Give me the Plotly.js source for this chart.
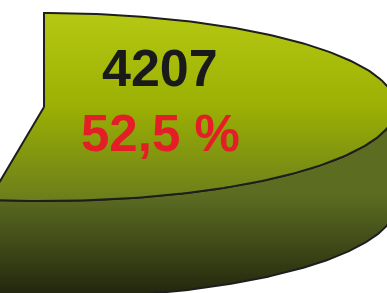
<!DOCTYPE html>
<html>
<head>
<meta charset="utf-8">
<script src="https://cdn.plot.ly/plotly-3.0.1.min.js"></script>
<style>html,body{margin:0;padding:0;background:#fff;}#chart{width:387px;height:293px;}</style>
</head>
<body>
<div id="chart"></div>
<script>
// ---- data ----
const labels = ["4207"];
const values = [4207];
const percents = [52.5];

// ---- geometry (layout constants, in pie-radius units) ----
const tilt = 0.267;      // vertical squash of the top ellipse
const depth = 0.2756;    // thickness of the pie
const startDeg = 90;     // slice starts at 12 o'clock, runs clockwise
const N = 200;

const sweep = 360 * percents[0] / 100;
const endDeg = startDeg - sweep;
const rad = d => d * Math.PI / 180;

// top face
const tx = [0], ty = [0];
for (let i = 0; i <= N; i++) {
  const t = rad(startDeg - sweep * i / N);
  tx.push(Math.cos(t)); ty.push(tilt * Math.sin(t));
}
tx.push(0); ty.push(0);

// visible front wall (from 3 o'clock to slice end)
const wFrom = Math.min(0, startDeg), wTo = endDeg;
const sx = [], sy = [];
for (let i = 0; i <= N; i++) {
  const t = rad(wFrom + (wTo - wFrom) * i / N);
  sx.push(Math.cos(t)); sy.push(tilt * Math.sin(t));
}
for (let i = N; i >= 0; i--) {
  const t = rad(wFrom + (wTo - wFrom) * i / N);
  sx.push(Math.cos(t)); sy.push(tilt * Math.sin(t) - depth);
}
sx.push(sx[0]); sy.push(sy[0]);

const edge = {color: '#1e1e1e', width: 2};

const traces = [
  {
    type: 'scatter', mode: 'lines', x: sx, y: sy, fill: 'toself',
    line: edge, hoverinfo: 'skip',
    fillgradient: {type: 'vertical', start: -tilt - depth, stop: -tilt + 0.02,
      colorscale: [[0, '#20240d'], [0.5, '#3f4917'], [1, '#5c6d21']]}
  },
  {
    type: 'scatter', mode: 'lines', x: tx, y: ty, fill: 'toself',
    line: edge, hoverinfo: 'skip',
    fillgradient: {type: 'vertical', start: -tilt, stop: tilt,
      colorscale: [[0, '#6b7d1c'], [0.5, '#9ab003'], [1, '#b5c812']]}
  }
];

const pctText = percents[0].toFixed(1).replace('.', ',') + ' %';

const layout = {
  width: 387, height: 293,
  margin: {l: 0, r: 0, t: 0, b: 0},
  paper_bgcolor: '#ffffff', plot_bgcolor: '#ffffff',
  showlegend: false,
  xaxis: {range: [-0.125, 0.974], visible: false, fixedrange: true},
  yaxis: {range: [-0.528, 0.304], visible: false, fixedrange: true},
  annotations: [
    {x: 0.33, y: 0.112, xref: 'x', yref: 'y', text: '<b>' + labels[0] + '</b>', showarrow: false,
     font: {family: 'Liberation Sans, Arial, sans-serif', size: 52, color: '#1a1a1a'}, xanchor: 'center', yanchor: 'middle'},
    {x: 0.33, y: -0.075, xref: 'x', yref: 'y', text: '<b>' + pctText + '</b>', showarrow: false,
     font: {family: 'Liberation Sans, Arial, sans-serif', size: 51, color: '#e41e26'}, xanchor: 'center', yanchor: 'middle'}
  ]
};

Plotly.newPlot('chart', traces, layout, {staticPlot: true, displayModeBar: false});
</script>
</body>
</html>
